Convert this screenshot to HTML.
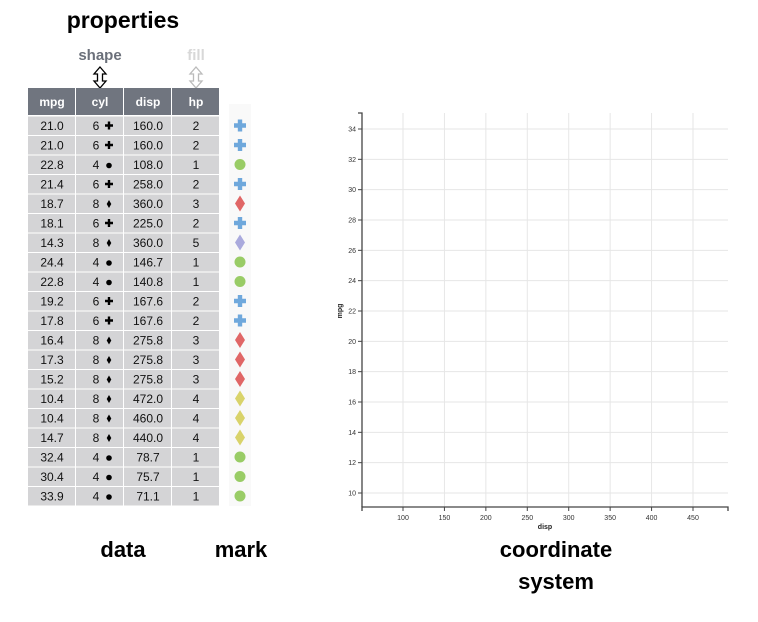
<!DOCTYPE html>
<html><head><meta charset="utf-8">
<style>
body{margin:0;background:#fff;font-family:"Liberation Sans",Arial,sans-serif;}
svg text{font-family:"Liberation Sans",Arial,sans-serif;}
</style></head>
<body>
<svg width="758" height="617" viewBox="0 0 758 617" xmlns="http://www.w3.org/2000/svg">
<text x="123" y="28" font-size="23" font-weight="bold" fill="#000" text-anchor="middle">properties</text>
<text x="100" y="60" font-size="15" font-weight="bold" fill="#6b707a" text-anchor="middle">shape</text>
<text x="196" y="60" font-size="15" font-weight="bold" fill="#d8d8d8" text-anchor="middle">fill</text>
<path d="M100 67 L106 74 L102.5 74 L102.5 81 L106 81 L100 88 L94 81 L97.5 81 L97.5 74 L94 74 Z" fill="#fff" stroke="#000" stroke-width="1.3"/>
<path d="M196 67 L202 74 L198.5 74 L198.5 81 L202 81 L196 88 L190 81 L193.5 81 L193.5 74 L190 74 Z" fill="#fff" stroke="#bbb" stroke-width="1.3"/>
<g id="table"></g>
<rect x="229" y="104" width="22" height="402" fill="#f9f9f9"/>
<g id="marks"></g>
<g id="chart"></g>
<text x="123" y="557" font-size="22" font-weight="bold" text-anchor="middle">data</text>
<text x="241" y="557" font-size="22" font-weight="bold" text-anchor="middle">mark</text>
<text x="556" y="557" font-size="22" font-weight="bold" text-anchor="middle">coordinate</text>
<text x="556" y="589" font-size="22" font-weight="bold" text-anchor="middle">system</text>
</svg>
<script>
const mpg=[21.0,21.0,22.8,21.4,18.7,18.1,14.3,24.4,22.8,19.2,17.8,16.4,17.3,15.2,10.4,10.4,14.7,32.4,30.4,33.9];
const cyl=[6,6,4,6,8,6,8,4,4,6,6,8,8,8,8,8,8,4,4,4];
const disp=[160.0,160.0,108.0,258.0,360.0,225.0,360.0,146.7,140.8,167.6,167.6,275.8,275.8,275.8,472.0,460.0,440.0,78.7,75.7,71.1];
const hp=[2,2,1,2,3,2,5,1,1,2,2,3,3,3,4,4,4,1,1,1];
const xTicks=[100,150,200,250,300,350,400,450];
const yTicks=[10,12,14,16,18,20,22,24,26,28,30,32,34];
const NS="http://www.w3.org/2000/svg";
function mk(p,tag,a){const e=document.createElementNS(NS,tag);for(const k in a)e.setAttribute(k,a[k]);p.appendChild(e);return e;}
const T=document.getElementById('table');
const colX=[28,76,124,172],colW=48,hdrY=88,hdrH=27,rowY=115.5,rowH=19.5;
const heads=['mpg','cyl','disp','hp'];
heads.forEach((h,i)=>{
 const r=mk(T,'rect',{x:colX[i],y:hdrY,width:colW-1,height:hdrH,fill:'#70757f'});
 
 
 const t=mk(T,'text',{x:colX[i]+colW/2,y:hdrY+18,'font-size':12,'font-weight':'bold',fill:'#fff','text-anchor':'middle'});
 t.textContent=h;
 
 
});
const fills={1:'#99cc66',2:'#6fa8dc',3:'#e06666',4:'#d9d36a',5:'#aaaadd'};
const M=document.getElementById('marks');
mpg.forEach((v,j)=>{
 const y=rowY+j*rowH;
 for(let i=0;i<4;i++){
  const r=mk(T,'rect',{x:colX[i],y:y+1,width:colW-1,height:rowH-1,fill:'#d4d4d6'});
  
  
 }
 const cy=y+14.5;
 const vals=[v.toFixed(1),String(cyl[j]),disp[j].toFixed(1),String(hp[j])];
 const xs=[colX[0]+24,colX[1]+20,colX[2]+24,colX[3]+24];
 vals.forEach((s,i)=>{
  const t=mk(T,'text',{x:xs[i],y:cy,'font-size':12,fill:'#111','text-anchor':'middle'});
  t.textContent=s;
  
  
 });
 const sx=colX[1]+33,sy=y+10;
 let g;
 if(cyl[j]==6) g=mk(T,'path',{d:`M${sx-4} ${sy-1.2}h8v2.4h-8z M${sx-1.2} ${sy-4}h2.4v8h-2.4z`,fill:'#000'});
 else if(cyl[j]==4) g=mk(T,'circle',{cx:sx,cy:sy+1,r:2.8,fill:'#000'});
 else g=mk(T,'path',{d:`M${sx} ${sy-3.5}L${sx+2.3} ${sy+0.5}L${sx} ${sy+4.5}L${sx-2.3} ${sy+0.5}Z`,fill:'#000'});
 
 
 const mx=240,my=y+10;let m;
 const f=fills[hp[j]];
 if(cyl[j]==6) m=mk(M,'path',{d:`M${mx-6} ${my-2.2}h12v4.4h-12z M${mx-2.2} ${my-6}h4.4v12h-4.4z`,fill:f});
 else if(cyl[j]==4) m=mk(M,'circle',{cx:mx,cy:my,r:5.5,fill:f});
 else m=mk(M,'path',{d:`M${mx} ${my-8}L${mx+5} ${my}L${mx} ${my+8}L${mx-5} ${my}Z`,fill:f});
 
 
});
// chart
const C=document.getElementById('chart');
const x0=362,x1=728,y0=507,yTop=113;
const xs=v=>403+(v-100)*(290/350);
const ys=v=>493-(v-10)*(364/24);
xTicks.forEach(v=>{
 const l=mk(C,'line',{x1:xs(v),x2:xs(v),y1:yTop,y2:y0,stroke:'#e6e6e6','stroke-width':1});
 
 
 const tk=mk(C,'line',{x1:xs(v),x2:xs(v),y1:y0,y2:y0+4,stroke:'#444'});
 
 
 const t=mk(C,'text',{x:xs(v),y:y0+13,'font-size':7,fill:'#333','text-anchor':'middle'});
 t.textContent=v;
 
 
});
yTicks.forEach(v=>{
 const l=mk(C,'line',{x1:x0,x2:x1,y1:ys(v),y2:ys(v),stroke:'#e6e6e6','stroke-width':1});
 
 
 const tk=mk(C,'line',{x1:x0-4,x2:x0,y1:ys(v),y2:ys(v),stroke:'#444'});
 
 
 const t=mk(C,'text',{x:x0-6,y:ys(v)+2.5,'font-size':7,fill:'#333','text-anchor':'end'});
 t.textContent=v;
 
 
});
const ya=mk(C,'path',{d:`M${x0-4} ${yTop}H${x0}V${y0}`,fill:'none',stroke:'#444','stroke-width':1.3});


const xa=mk(C,'path',{d:`M${x0} ${y0+4}V${y0}H${x1}V${y0+4}`,fill:'none',stroke:'#444','stroke-width':1.3});


const xt=mk(C,'text',{x:545,y:529,'font-size':7,'font-weight':'bold','text-anchor':'middle',fill:'#222'});
xt.textContent='disp';


const yt=mk(C,'text',{x:0,y:0,'font-size':7,'font-weight':'bold','text-anchor':'middle',fill:'#222',transform:'translate(342,311) rotate(-90)'});
yt.textContent='mpg';


</script>
</body></html>
